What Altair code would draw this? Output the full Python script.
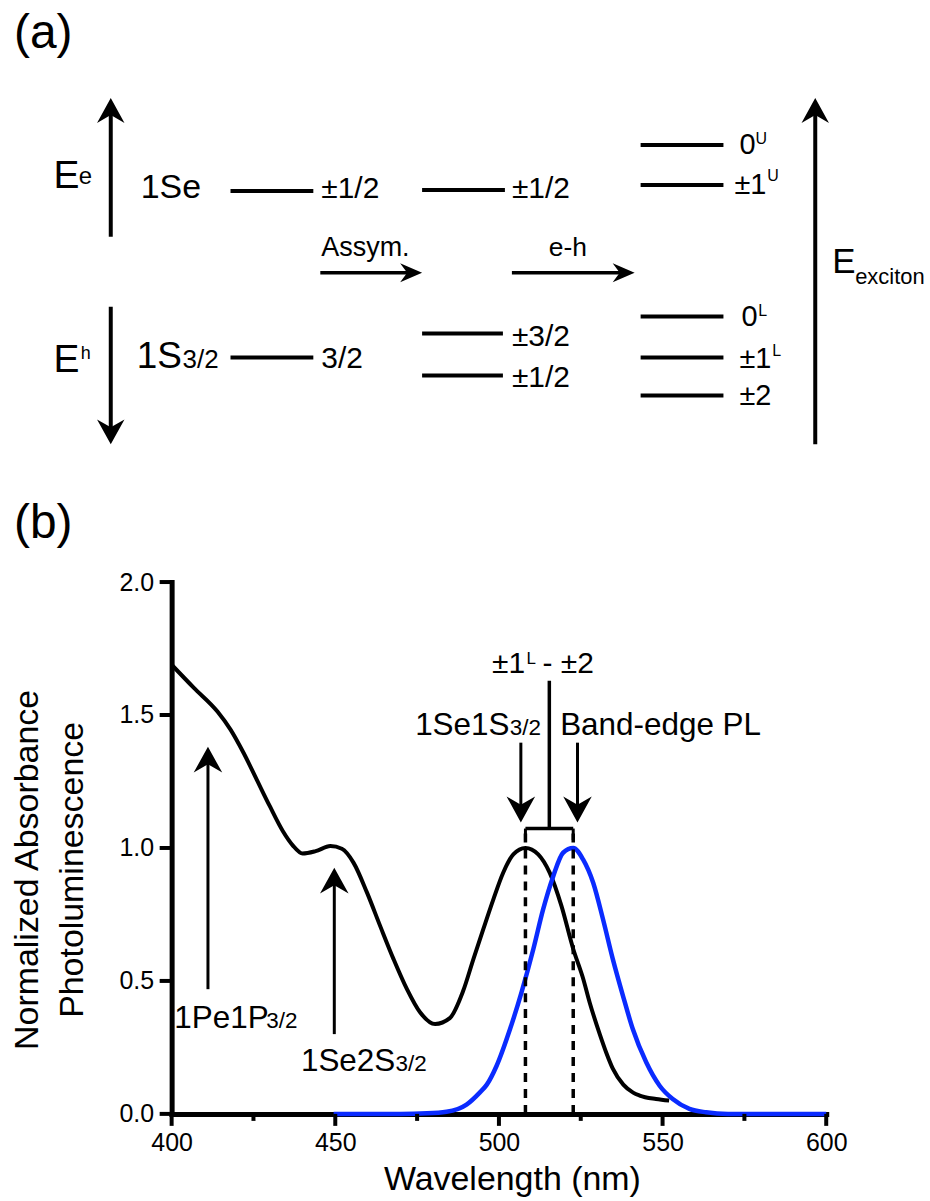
import altair as alt
import pandas as pd

FONT = "Liberation Sans"
BLUE = "#0a2bff"

# ---------------- panel (a): energy-level scheme ----------------
# diagram units: x runs 0..93 across the figure, E is the energy axis (46 = top)
level_x0 = [23.0, 23.0, 42.2, 42.2, 42.2, 64.1, 64.1, 64.1, 64.1, 64.1]
level_x1 = [31.3, 31.3, 50.5, 50.3, 50.3, 72.4, 72.4, 72.4, 72.4, 72.4]
level_E = [27.0, 10.3, 27.1, 12.7, 8.5, 31.6, 27.6, 14.4, 10.3, 6.5]

# arrows: start point, tip point, head direction (deg, 0 = up)
arr_x0 = [11.0, 11.0, 81.6]
arr_E0 = [22.4, 15.4, 1.6]
arr_x1 = [11.0, 11.0, 81.6]
arr_E1 = [36.3, 1.6, 36.3]
arr_dir = [0, 180, 0]

harr_x0 = [32.0, 51.2]
harr_x1 = [42.2, 63.5]
harr_E = [18.8, 18.8]

scheme_text = ["(a)", "(b)", "E", "e", "E", "h", "1Se", "1S", "3/2",
               "±1/2", "3/2", "±1/2", "±3/2", "±1/2", "Assym.", "e-h",
               "0", "U", "±1", "U", "0", "L", "±1", "L", "±2", "E", "exciton"]
scheme_tx = [1.3, 1.3, 5.25, 7.8, 5.25, 8.0, 14.0, 13.6, 18.2,
             32.1, 32.1, 51.2, 51.2, 51.2, 32.1, 54.9,
             74.0, 75.6, 73.5, 76.8, 74.2, 75.9, 74.0, 77.3, 74.0, 83.3, 85.6]
scheme_tE = [41.3, -7.8, 27.3, 27.7, 8.8, 10.2, 26.3, 9.3, 9.3,
             26.3, 9.3, 26.3, 11.5, 7.3, 20.5, 20.5,
             30.7, 31.7, 26.7, 28.0, 13.5, 14.5, 9.3, 10.5, 5.5, 18.8, 17.7]
scheme_fs = [48, 48, 39, 24, 39, 18, 34, 37, 26,
             30, 30, 30, 30, 30, 27, 26.5,
             29, 16, 29, 16, 29, 16, 29, 16, 29, 35, 22]

# ---------------- panel (b): spectra ----------------
abs_nm = [400, 406.8, 414, 418, 422, 426, 430, 434, 437, 440,
          444, 448.5, 452, 455.6, 459.7, 463.7, 467.8, 471.9, 475.9, 480.5,
          485, 489, 492.2, 495.2, 498.3, 501.3, 504.4, 508.1, 512, 515.5,
          519.1, 522.7, 525.7, 527.7, 530.8, 532.8, 534.8, 538, 541, 543,
          548, 552]
abs_val = [1.689, 1.602, 1.513, 1.445, 1.357, 1.257, 1.157, 1.063, 1.01, 0.979,
           0.988, 1.007, 0.997, 0.944, 0.832, 0.707, 0.582, 0.469, 0.382, 0.338,
           0.36, 0.46, 0.582, 0.694, 0.807, 0.907, 0.976, 1.0, 0.976, 0.907,
           0.782, 0.62, 0.51, 0.42, 0.30, 0.23, 0.17, 0.11, 0.08, 0.069,
           0.056, 0.05]

pl_nm = [449.5, 460, 470, 478, 484, 490.1, 494.2, 496.3, 499.3,
         503.4, 506.9, 510.5, 513.5, 516.6, 519.6, 522.7, 525.7, 528.8, 531.8,
         534.8, 537.9, 540.9, 545, 549.1, 553.1, 558.2, 563.3, 570, 600]
pl_val = [0, 0, 0, 0.002, 0.008, 0.035, 0.081, 0.11, 0.181,
          0.319, 0.457, 0.619, 0.769, 0.894, 0.982, 1.0, 0.957, 0.869, 0.732,
          0.582, 0.444, 0.319, 0.194, 0.106, 0.056, 0.019, 0.006, 0.0, 0.0]

x_major = [400, 450, 500, 550, 600]
x_minor = [425, 475, 525, 575]
y_major = [0, 0.5, 1.0, 1.5, 2.0]

peak_nm = [508.1, 522.7]          # absorption and emission maxima
bracket_top = 1.073
bracket_leg = 1.03
stem_nm = 515.4
stem_top = 1.629

down_nm = [506.7, 524.0]
down_from = [1.396, 1.396]
down_tip = [1.096, 1.096]
up_nm = [411.1, 449.7]
up_from = [0.469, 0.30]
up_tip = [1.381, 0.926]

spec_text = ["±1", "L", "- ±2", "1Se1S", "3/2", "Band-edge PL",
             "1Pe1P", "3/2", "1Se2S", "3/2"]
spec_nm = [497.9, 508.4, 513.3, 474.4, 503.3, 518.7, 400.8, 428.9, 439.5, 468.4]
spec_v = [1.659, 1.69, 1.659, 1.426, 1.426, 1.426, 0.323, 0.323, 0.162, 0.162]
spec_fs = [30, 17, 30, 31.5, 22.5, 31.5, 31.5, 22.5, 31.5, 22.5]

HEAD_V = "M0,0L0.55,1L0,0.68L-0.55,1Z"
HEAD_H = "M0,0L0.43,1L0,0.68L-0.43,1Z"

# ---------------- scheme chart ----------------
SX = alt.Scale(domain=[17.1, 82.7], nice=False, zero=False)
SE = alt.Scale(domain=[0, 46], nice=False, zero=False)


def ax(f):
    return alt.X(f"{f}:Q", scale=SX, axis=None)


def ay(f):
    return alt.Y(f"{f}:Q", scale=SE, axis=None)


frame = pd.DataFrame({"x0": [0.0], "x1": [93.0], "e0": [46.0], "e1": [-74.1]})
frame_layer = alt.Chart(frame).mark_rect(opacity=0).encode(
    x=ax("x0"), x2="x1", y=ay("e0"), y2="e1")

levels = pd.DataFrame({"x0": level_x0, "x1": level_x1, "E": level_E})
level_layer = alt.Chart(levels).mark_rule(color="black", strokeWidth=4).encode(
    x=ax("x0"), x2="x1", y=ay("E"))

varr = pd.DataFrame({"x0": arr_x0, "e0": arr_E0, "x1": arr_x1, "e1": arr_E1, "ang": arr_dir})
# shaft stops inside the arrowhead
varr["es"] = varr["e1"] - 1.0 * (varr["ang"] == 0) + 1.0 * (varr["ang"] == 180)
vshaft = alt.Chart(varr).mark_rule(color="black", strokeWidth=4).encode(
    x=ax("x0"), y=ay("e0"), y2="es")
vhead = alt.Chart(varr).mark_point(shape=HEAD_V, size=2500, filled=True, color="black",
                                   opacity=1, strokeWidth=0).encode(
    x=ax("x1"), y=ay("e1"), angle=alt.Angle("ang:Q", scale=None))

harr = pd.DataFrame({"x0": harr_x0, "x1": harr_x1, "E": harr_E})
harr["xs"] = harr["x1"] - 1.0
hshaft = alt.Chart(harr).mark_rule(color="black", strokeWidth=3.5).encode(
    x=ax("x0"), x2="xs", y=ay("E"))
hhead = alt.Chart(harr).mark_point(shape=HEAD_H, size=1936, filled=True, color="black",
                                   opacity=1, strokeWidth=0, angle=90).encode(
    x=ax("x1"), y=ay("E"))

stext = pd.DataFrame({"t": scheme_text, "x": scheme_tx, "E": scheme_tE, "fs": scheme_fs})
stext_layer = alt.Chart(stext).mark_text(font=FONT, align="left", baseline="alphabetic",
                                         color="black").encode(
    x=ax("x"), y=ay("E"), text="t:N", size=alt.Size("fs:Q", scale=None))

scheme = alt.layer(frame_layer, level_layer, vshaft, vhead, hshaft, hhead,
                   stext_layer).properties(width=656, height=460)

# ---------------- spectra chart ----------------
PLOT_W, PLOT_H = 656, 533
axis_style = dict(
    grid=False,
    domainColor="black", domainWidth=5, domainCap="square",
    tickSize=12, tickOpacity=0,
    labelFont=FONT, labelFontSize=25, labelColor="black",
    labelFlush=False, labelOverlap=False,
    titleFont=FONT, titleFontSize=34, titleColor="black", titleFontWeight="normal",
)
x_axis = alt.Axis(
    values=x_major, format="d",
    title="Wavelength (nm)", titleX=341, titleY=76, titleBaseline="alphabetic",
    titleAlign="center",
    labelPadding=5,
    **axis_style,
)
y_axis = alt.Axis(
    values=y_major, format=".1f", labelPadding=6,
    title=["Normalized Absorbance", "Photoluminescence"], titleAngle=270,
    titleBaseline="alphabetic", titleAlign="center", titleX=-134, titleY=288,
    titleLineHeight=45,
    **axis_style,
)
XS = alt.Scale(domain=[400, 600], nice=False, zero=False)
YS = alt.Scale(domain=[0, 2], nice=False, zero=False)


def bx(f):
    return alt.X(f"{f}:Q", scale=XS, axis=x_axis)


def by(f):
    return alt.Y(f"{f}:Q", scale=YS, axis=y_axis)


absorb = pd.DataFrame({"nm": abs_nm, "v": abs_val})
abs_layer = alt.Chart(absorb).mark_line(color="black", strokeWidth=4,
                                        interpolate="monotone").encode(x=bx("nm"), y=by("v"))
pl = pd.DataFrame({"nm": pl_nm, "v": pl_val})
pl_layer = alt.Chart(pl).mark_line(color=BLUE, strokeWidth=4.5,
                                   interpolate="monotone").encode(x=bx("nm"), y=by("v"))

# outward tick marks (major and minor) drawn at the scale positions
xt_major = alt.Chart(pd.DataFrame({"t": x_major})).mark_rule(
    color="black", strokeWidth=4).encode(
    x=bx("t"), y=alt.value(PLOT_H), y2=alt.value(PLOT_H + 12))
xt_minor = alt.Chart(pd.DataFrame({"t": x_minor})).mark_rule(
    color="black", strokeWidth=4).encode(
    x=bx("t"), y=alt.value(PLOT_H), y2=alt.value(PLOT_H + 7))
yt_major = alt.Chart(pd.DataFrame({"t": y_major})).mark_rule(
    color="black", strokeWidth=4).encode(
    y=by("t"), x=alt.value(0), x2=alt.value(-12))

peaks = pd.DataFrame({"nm": peak_nm, "lo": [0, 0], "top": [bracket_top] * 2,
                      "leg": [bracket_leg] * 2})
dash_layer = alt.Chart(peaks).mark_rule(color="black", strokeWidth=3.5,
                                        strokeDash=[9, 7]).encode(
    x=bx("nm"), y=by("lo"), y2="top")
leg_layer = alt.Chart(peaks).mark_rule(color="black", strokeWidth=3).encode(
    x=bx("nm"), y=by("leg"), y2="top")
bracket = pd.DataFrame({"a": [peak_nm[0]], "b": [peak_nm[1]], "v": [bracket_top],
                        "s": [stem_nm], "st": [stem_top]})
bar_layer = alt.Chart(bracket).mark_rule(color="black", strokeWidth=3.5).encode(
    x=bx("a"), x2="b", y=by("v"))
stem_layer = alt.Chart(bracket).mark_rule(color="black", strokeWidth=3.5).encode(
    x=bx("s"), y=by("v"), y2="st")

arrows_b = pd.DataFrame({
    "nm": down_nm + up_nm,
    "v0": down_from + up_from,
    "tip": down_tip + up_tip,
    "ang": [180, 180, 0, 0],
})
arrows_b["vs"] = arrows_b["tip"] + 0.06 * (arrows_b["ang"] == 180) - 0.06 * (arrows_b["ang"] == 0)
bshaft = alt.Chart(arrows_b).mark_rule(color="black", strokeWidth=3).encode(
    x=bx("nm"), y=by("v0"), y2="vs")
bhead = alt.Chart(arrows_b).mark_point(shape=HEAD_V, size=2704, filled=True, color="black",
                                       opacity=1, strokeWidth=0).encode(
    x=bx("nm"), y=by("tip"), angle=alt.Angle("ang:Q", scale=None))

btext = pd.DataFrame({"t": spec_text, "nm": spec_nm, "v": spec_v, "fs": spec_fs})
btext_layer = alt.Chart(btext).mark_text(font=FONT, align="left", baseline="alphabetic",
                                         color="black").encode(
    x=bx("nm"), y=by("v"), text="t:N", size=alt.Size("fs:Q", scale=None))

spectra = alt.layer(abs_layer, pl_layer, xt_major, xt_minor, yt_major,
                    dash_layer, leg_layer, bar_layer, stem_layer,
                    bshaft, bhead, btext_layer).properties(width=PLOT_W, height=PLOT_H)

chart = alt.vconcat(scheme, spectra, spacing=122, bounds="flush").properties(
    padding=0
).configure_view(stroke=None)

chart.save("out.html", embed_options={"renderer": "svg", "actions": False})
